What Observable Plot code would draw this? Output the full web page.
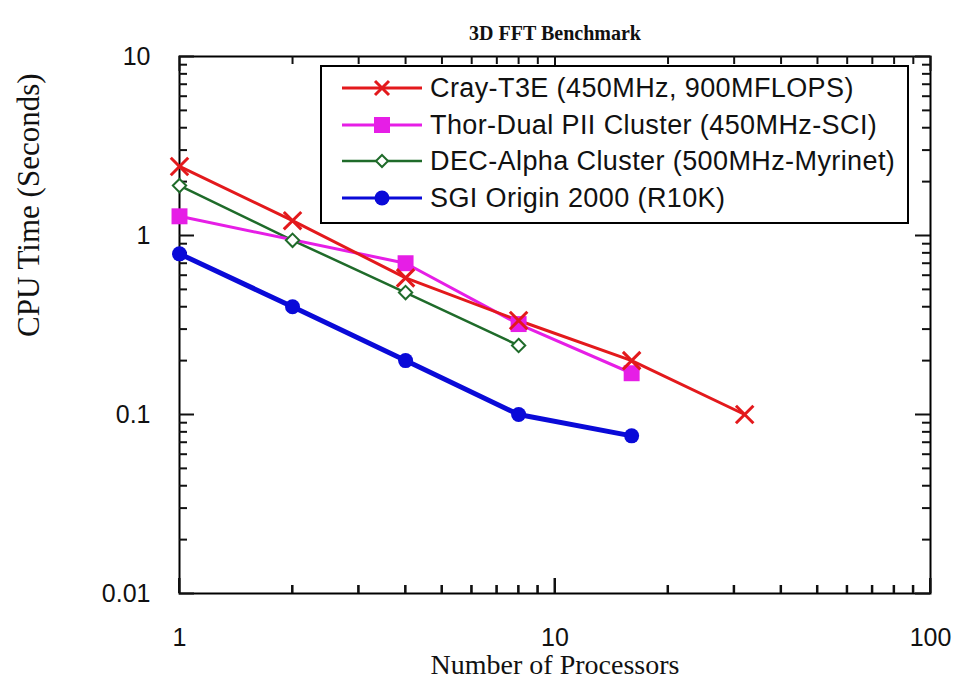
<!DOCTYPE html>
<html><head><meta charset="utf-8">
<script src="https://cdn.jsdelivr.net/npm/d3@7"></script>
<script src="https://cdn.jsdelivr.net/npm/@observablehq/plot@0.6"></script>
<style>
body{margin:0;background:#fff;}
#wrap{position:relative;width:959px;height:685px;overflow:hidden;}
#legend{position:absolute;left:320px;top:65px;width:589px;height:159px;border:2px solid #000;background:#fff;box-sizing:border-box;font-family:"Liberation Sans",Arial,sans-serif;font-size:27px;letter-spacing:0.4px;color:#111;}
.row{position:absolute;left:18px;height:36px;display:flex;align-items:center;white-space:nowrap;}
.row svg{margin-right:6px;}
</style></head><body>
<div id="wrap"><div id="chart"></div><div id="legend"></div></div>
<script>
// ---- data ----
const seriesNames = ["Cray-T3E (450MHz, 900MFLOPS)", "Thor-Dual PII Cluster (450MHz-SCI)", "DEC-Alpha Cluster (500MHz-Myrinet)", "SGI Origin 2000 (R10K)"];
const crayProcs = [1, 2, 4, 8, 16, 32];
const crayTime  = [2.43, 1.21, 0.58, 0.335, 0.20, 0.10];
const thorProcs = [1, 4, 8, 16];
const thorTime  = [1.28, 0.70, 0.32, 0.17];
const decProcs  = [1, 2, 4, 8];
const decTime   = [1.90, 0.94, 0.48, 0.243];
const sgiProcs  = [1, 2, 4, 8, 16];
const sgiTime   = [0.79, 0.40, 0.20, 0.10, 0.076];
const xMajorTicks = [1, 10, 100];
const xMinorTicks = [2,3,4,5,6,7,8,9,20,30,40,50,60,70,80,90];
const yMajorTicks = [0.01, 0.1, 1, 10];
const yMinorTicks = [0.02,0.03,0.04,0.05,0.06,0.07,0.08,0.09,0.2,0.3,0.4,0.5,0.6,0.7,0.8,0.9,2,3,4,5,6,7,8,9];
// ---- styles ----
const colors = ["#e3191c", "#e61ee6", "#1f6b2a", "#0a0ad8"];
const lineW = [3, 3, 2.5, 5];
const tickColor = "#111";

const rows = (xs, ys) => xs.map((x, i) => ({x, y: ys[i]}));
const cray = rows(crayProcs, crayTime);
const thor = rows(thorProcs, thorTime);
const dec = rows(decProcs, decTime);
const sgi = rows(sgiProcs, sgiTime);

const W = 959, H = 685, ML = 179, MR = 29, MT = 56, MB = 92;
const innerW = W - ML - MR, innerH = H - MT - MB;
const tickFont = {fontSize: 25, fontFamily: "Liberation Sans, Arial, sans-serif"};
const MAJ = 15, MIN = 8;

// inward ticks (short stubs at the frame edges)
const tickBottom = (t, len) => Plot.ruleX(t, {x: d => d, stroke: tickColor, strokeWidth: 2, insetTop: innerH - len});
const tickTop    = (t, len) => Plot.tickX(t, {x: d => d, stroke: tickColor, strokeWidth: 2, insetBottom: innerH - len});
const tickLeft   = (t, len) => Plot.ruleY(t, {y: d => d, stroke: tickColor, strokeWidth: 2, insetRight: innerW - len});
const tickRight  = (t, len) => Plot.ruleY(t, {y: d => d, stroke: tickColor, strokeWidth: 2, insetLeft: innerW - len});

// bottom ticks also drawn via a render function using Plot's own x scale
const NS = "http://www.w3.org/2000/svg";
function bottomTickMark(index, scales, values, dims) {
  const g = document.createElementNS(NS, "g");
  try {
    const yb = dims.height - dims.marginBottom;
    const add = (t, len) => t.forEach(v => {
      const x = scales.x(v);
      const l = document.createElementNS(NS, "line");
      l.setAttribute("x1", x); l.setAttribute("x2", x);
      l.setAttribute("y1", yb); l.setAttribute("y2", yb - len);
      l.setAttribute("stroke", tickColor); l.setAttribute("stroke-width", 2);
      g.appendChild(l);
    });
    add(xMajorTicks, MAJ); add(xMinorTicks, MIN);
  } catch (e) {}
  return g;
}

const chart = Plot.plot({
  width: W, height: H,
  marginLeft: ML, marginRight: MR, marginTop: MT, marginBottom: MB,
  style: {background: "#fff"},
  x: {type: "log", domain: [1, 100], label: null},
  y: {type: "log", domain: [0.01, 10], label: null},
  marks: [
    Plot.axisX(xMajorTicks, {anchor: "bottom", tickSize: 0, tickPadding: 35, tickFormat: d => String(d), label: null, fill: "#111", ...tickFont}),
    Plot.axisY(yMajorTicks, {anchor: "left", tickSize: 0, tickPadding: 29, tickFormat: d => String(d), label: null, fill: "#111", ...tickFont}),
    Plot.frame({stroke: "black", strokeWidth: 2}),
    tickBottom(xMajorTicks, MAJ), tickBottom(xMinorTicks, MIN),
    tickTop(xMajorTicks, MAJ), tickTop(xMinorTicks, MIN),
    tickLeft(yMajorTicks, MAJ), tickLeft(yMinorTicks, MIN),
    tickRight(yMajorTicks, MAJ), tickRight(yMinorTicks, MIN),
    Plot.line(dec, {x: "x", y: "y", stroke: colors[2], strokeWidth: lineW[2]}),
    Plot.line(sgi, {x: "x", y: "y", stroke: colors[3], strokeWidth: lineW[3]}),
    Plot.line(thor, {x: "x", y: "y", stroke: colors[1], strokeWidth: lineW[1]}),
    Plot.line(cray, {x: "x", y: "y", stroke: colors[0], strokeWidth: lineW[0]}),
    Plot.dot(dec, {x: "x", y: "y", symbol: "diamond2", r: 6, stroke: colors[2], fill: "#fff", strokeWidth: 2}),
    Plot.dot(sgi, {x: "x", y: "y", symbol: "circle", r: 7.5, fill: colors[3], stroke: "none"}),
    Plot.dot(thor, {x: "x", y: "y", symbol: "square", r: 9, fill: colors[1], stroke: "none"}),
    Plot.dot(cray, {x: "x", y: "y", symbol: "times", r: 8, stroke: colors[0], strokeWidth: 3}),
    Plot.text(["3D FFT Benchmark"], {frameAnchor: "top", dy: -31, text: d => d, fill: "#111", fontWeight: "bold", fontFamily: "Liberation Serif, Times New Roman, serif", fontSize: 20}),
    Plot.text(["Number of Processors"], {frameAnchor: "bottom", dy: 80, text: d => d, fill: "#111", fontFamily: "Liberation Serif, Times New Roman, serif", fontSize: 28, letterSpacing: 1.6}),
    Plot.text(["CPU Time (Seconds)"], {frameAnchor: "left", dx: -150, dy: 12, rotate: -90, text: d => d, fill: "#111", fontFamily: "Liberation Serif, Times New Roman, serif", fontSize: 31}),
    bottomTickMark
  ]
});
document.getElementById("chart").appendChild(chart);

const symbolSvg = [
  c => `<line x1="2" y1="18" x2="82" y2="18" stroke="${c}" stroke-width="3"/><path d="M35,11L49,25M49,11L35,25" stroke="${c}" stroke-width="3"/>`,
  c => `<line x1="2" y1="18" x2="82" y2="18" stroke="${c}" stroke-width="3"/><rect x="34" y="10" width="16" height="16" fill="${c}"/>`,
  c => `<line x1="2" y1="18" x2="82" y2="18" stroke="${c}" stroke-width="2.5"/><path d="M42,12L48,18L42,24L36,18Z" fill="#fff" stroke="${c}" stroke-width="2"/>`,
  c => `<line x1="2" y1="18" x2="82" y2="18" stroke="${c}" stroke-width="3"/><circle cx="42" cy="18" r="7.5" fill="${c}"/>`
];
const legend = document.getElementById("legend");
const rowTops = [3, 40, 76, 113];
seriesNames.forEach((name, i) => {
  const r = document.createElement("div");
  r.className = "row";
  r.style.top = rowTops[i] + "px";
  r.innerHTML = `<svg width="84" height="36">${symbolSvg[i](colors[i])}</svg><span>${name}</span>`;
  legend.appendChild(r);
});
</script>
</body></html>
